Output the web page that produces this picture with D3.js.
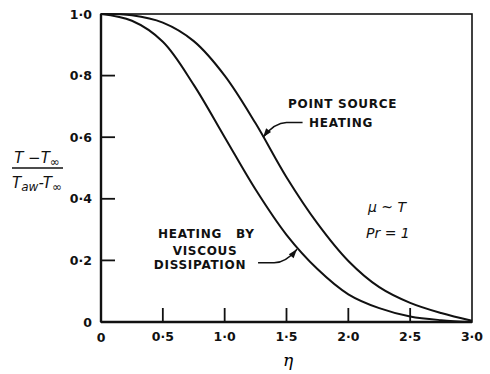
<!DOCTYPE html>
<html>
<head>
<meta charset="utf-8">
<script src="https://cdn.jsdelivr.net/npm/d3@7"></script>
<style>
  html, body { margin: 0; padding: 0; background: #fff; }
  svg { display: block; }
  .tick-label { font-family: "DejaVu Sans", sans-serif; font-weight: bold; font-size: 12.5px; fill: #111; }
  .note { font-family: "DejaVu Sans", sans-serif; font-weight: bold; font-size: 12px; fill: #111; letter-spacing: 0.7px; }
  .ital { font-family: "DejaVu Sans", sans-serif; font-style: italic; font-size: 14px; fill: #111; }
</style>
</head>
<body>
<script>
// Similarity variable eta and dimensionless temperature profiles
const eta = [0, 0.25, 0.5, 0.75, 1.0, 1.25, 1.5, 1.75, 2.0, 2.25, 2.5, 2.75, 3.0];
const pointSource = [1.0, 0.996, 0.972, 0.912, 0.80, 0.645, 0.47, 0.32, 0.198, 0.113, 0.062, 0.029, 0.004];
const viscous = [1.0, 0.978, 0.91, 0.77, 0.6, 0.43, 0.283, 0.172, 0.09, 0.045, 0.018, 0.006, 0.0];

const xTicks = [0, 0.5, 1.0, 1.5, 2.0, 2.5, 3.0];
const xTickLabels = ["0", "0·5", "1·0", "1·5", "2·0", "2·5", "3·0"];
const yTicks = [0, 0.2, 0.4, 0.6, 0.8, 1.0];
const yTickLabels = ["0", "0·2", "0·4", "0·6", "0·8", "1·0"];

const W = 490, H = 374;
const svg = d3.select("body").append("svg").attr("width", W).attr("height", H);

const x = d3.scaleLinear().domain([0, 3]).range([101, 472]);
const y = d3.scaleLinear().domain([0, 1]).range([322, 14]);

// Frame
svg.append("rect")
  .attr("x", x(0)).attr("y", y(1))
  .attr("width", x(3) - x(0)).attr("height", y(0) - y(1))
  .attr("fill", "none").attr("stroke", "#111").attr("stroke-width", 1.6);
// Heavier left and bottom axes
svg.append("line").attr("x1", x(0)).attr("x2", x(0)).attr("y1", y(0)).attr("y2", y(1))
  .attr("stroke", "#111").attr("stroke-width", 2.4);
svg.append("line").attr("x1", x(0)).attr("x2", x(3)).attr("y1", y(0)).attr("y2", y(0))
  .attr("stroke", "#111").attr("stroke-width", 2.4);

// Inward ticks
const tickLen = 14;
svg.append("g").selectAll("line").data(xTicks.slice(1, -1)).join("line")
  .attr("x1", d => x(d)).attr("x2", d => x(d))
  .attr("y1", y(0)).attr("y2", y(0) - tickLen)
  .attr("stroke", "#111").attr("stroke-width", 1.8);
svg.append("g").selectAll("line").data(yTicks.slice(1, -1)).join("line")
  .attr("x1", x(0)).attr("x2", x(0) + tickLen)
  .attr("y1", d => y(d)).attr("y2", d => y(d))
  .attr("stroke", "#111").attr("stroke-width", 1.8);

// Tick labels
svg.append("g").selectAll("text").data(xTicks).join("text")
  .attr("class", "tick-label")
  .attr("x", d => x(d)).attr("y", (d, i) => y(0) + (i === 0 ? 20 : 19))
  .attr("text-anchor", "middle")
  .text((d, i) => xTickLabels[i]);
svg.append("g").selectAll("text").data(yTicks).join("text")
  .attr("class", "tick-label")
  .attr("x", x(0) - 9).attr("y", d => y(d) + 4.5)
  .attr("text-anchor", "end")
  .text((d, i) => yTickLabels[i]);

// Axis titles
svg.append("text").attr("x", 288).attr("y", 366)
  .attr("text-anchor", "middle")
  .style("font-family", "DejaVu Serif, serif").style("font-style", "italic").style("font-size", "17px")
  .text("η");

const yl = svg.append("g").attr("class", "ital");
const num = yl.append("text").attr("x", 37).attr("y", 163).attr("text-anchor", "middle").style("font-size", "15px");
num.append("tspan").text("T −T");
num.append("tspan").attr("dy", 3).style("font-size", "12px").text("∞");
yl.append("line").attr("x1", 12).attr("x2", 63).attr("y1", 168).attr("y2", 168)
  .attr("stroke", "#111").attr("stroke-width", 1.4);
const den = yl.append("text").attr("x", 37).attr("y", 188).attr("text-anchor", "middle").style("font-size", "15px");
den.append("tspan").text("T");
den.append("tspan").attr("dy", 3).style("font-size", "12px").text("aw");
den.append("tspan").attr("dy", -3).text("-T");
den.append("tspan").attr("dy", 3).style("font-size", "12px").text("∞");

// Profiles
const line = d3.line().x(d => x(d[0])).y(d => y(d[1])).curve(d3.curveCatmullRom.alpha(0.5));
[pointSource, viscous].forEach(series => {
  svg.append("path")
    .datum(eta.map((e, i) => [e, series[i]]))
    .attr("d", line)
    .attr("fill", "none").attr("stroke", "#111").attr("stroke-width", 2);
});

// Arrowhead for leaders
svg.append("defs").append("marker")
  .attr("id", "arr").attr("viewBox", "0 0 10 10")
  .attr("refX", 10).attr("refY", 5)
  .attr("markerWidth", 9).attr("markerHeight", 6).attr("orient", "auto")
  .append("path").attr("d", "M0,1.5 L10,5 L0,8.5 Z").attr("fill", "#111");

function leader(endEta, endV, elbowEta, elbowV, tipEta, tipV) {
  const p = d3.path();
  p.moveTo(x(endEta), y(endV));
  p.lineTo(x(elbowEta), y(elbowV));
  p.quadraticCurveTo(x(elbowEta) - (x(elbowEta) - x(tipEta)) * 0.5, y(elbowV),
                     x(tipEta), y(tipV));
  svg.append("path").attr("d", p.toString())
    .attr("fill", "none").attr("stroke", "#111").attr("stroke-width", 1.5)
    .attr("marker-end", "url(#arr)");
}

// Point source heating label
svg.append("text").attr("class", "note").attr("x", 288).attr("y", 108).text("POINT  SOURCE");
svg.append("text").attr("class", "note").attr("x", 309).attr("y", 127).text("HEATING");
leader(1.63, 0.648, 1.5, 0.648, 1.31, 0.60);

// Viscous dissipation label
const hb = svg.append("text").attr("class", "note").attr("y", 238);
hb.append("tspan").attr("x", 158).text("HEATING");
hb.append("tspan").attr("x", 236).text("BY");
svg.append("text").attr("class", "note").attr("x", 205).attr("y", 255).attr("text-anchor", "middle").text("VISCOUS");
svg.append("text").attr("class", "note").attr("x", 200).attr("y", 269).attr("text-anchor", "middle").text("DISSIPATION");
leader(1.27, 0.192, 1.4, 0.192, 1.585, 0.236);

// Parameter notes
svg.append("text").attr("class", "ital").attr("x", 368).attr("y", 212).text("μ ~ T");
svg.append("text").attr("class", "ital").attr("x", 366).attr("y", 238).text("Pr = 1");
</script>
</body>
</html>
